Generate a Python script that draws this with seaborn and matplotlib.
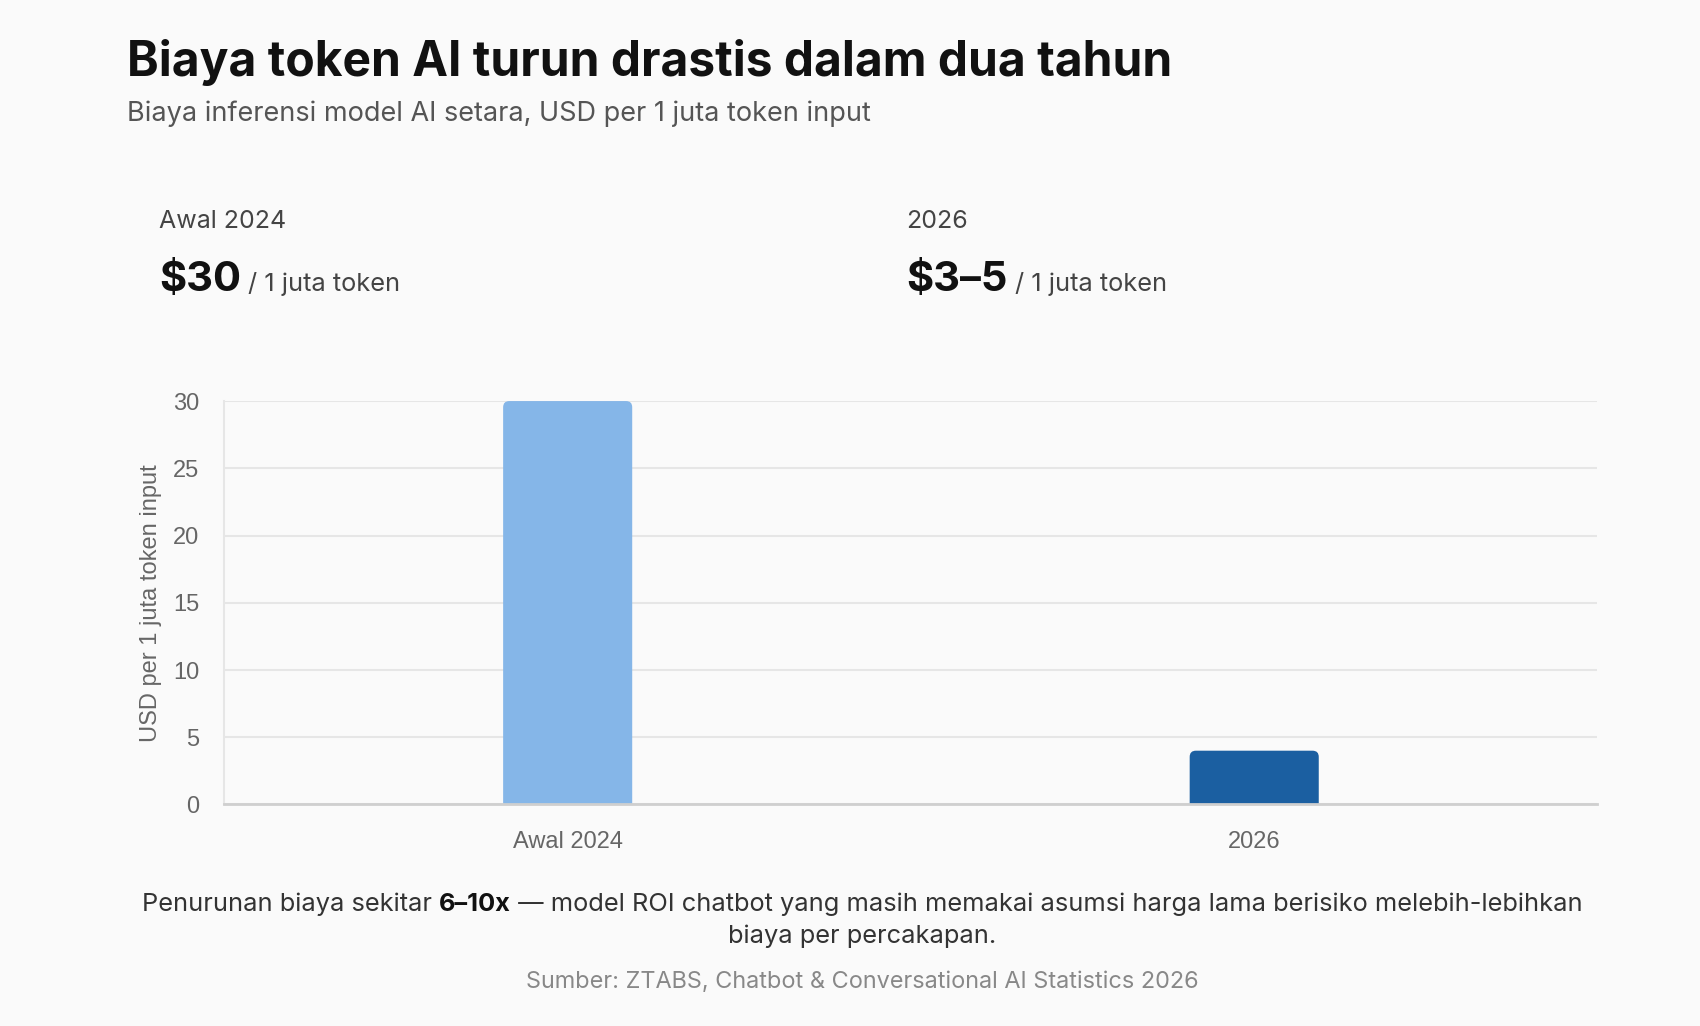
import matplotlib
matplotlib.use("Agg")
import matplotlib.pyplot as plt
from matplotlib.patches import FancyBboxPatch
import seaborn as sns
import pandas as pd

# data
categories = ["Awal 2024", "2026"]
cost_usd = [30, 4]
headline_values = ["$30", "$3–5"]
headline_unit = "/ 1 juta token"
bar_colors = ["#85B6E8", "#1B5FA1"]

title = "Biaya token AI turun drastis dalam dua tahun"
subtitle = "Biaya inferensi model AI setara, USD per 1 juta token input"
note_parts = ["Penurunan biaya sekitar ", "6–10x",
              " — model ROI chatbot yang masih memakai asumsi harga lama berisiko melebih-lebihkan"]
note_line2 = "biaya per percakapan."
source = "Sumber: ZTABS, Chatbot & Conversational AI Statistics 2026"

BG = "#FAFAFA"
HEAD_FONT = ["Inter", "DejaVu Sans"]
AX_FONT = ["Liberation Sans", "DejaVu Sans"]

sns.set_theme(style="white")
plt.rcParams["font.family"] = HEAD_FONT

df = pd.DataFrame({"periode": categories, "biaya": cost_usd})

fig = plt.figure(figsize=(17, 10.26), dpi=100, facecolor=BG)
ax = fig.add_axes([0.132, 0.2159, 0.8077, 0.3932], facecolor=BG)

sns.barplot(data=df, x="periode", y="biaya", hue="periode", palette=bar_colors,
            width=0.188, legend=False, ax=ax, saturation=1)

ax.set_ylim(0, 30)
ax.set_xlim(-0.5, 1.5)

# rounded tops: swap seaborn rectangles for rounded boxes
for p in list(ax.patches):
    x, w, h = p.get_x(), p.get_width(), p.get_height()
    fc = p.get_facecolor()
    p.remove()
    ax.add_patch(FancyBboxPatch((x, -1), w, h + 1,
                                boxstyle="round,pad=0,rounding_size=0.009",
                                mutation_aspect=51, facecolor=fc, edgecolor="none",
                                zorder=2))

ax.set_yticks(range(0, 31, 5))
ax.grid(axis="y", color="#E6E6E6", lw=1.5, zorder=0)
ax.grid(axis="x", visible=False)
ax.set_axisbelow(True)
for s in ["top", "right"]:
    ax.spines[s].set_visible(False)
ax.spines["left"].set_color("#E6E6E6")
ax.spines["left"].set_linewidth(1.5)
ax.spines["bottom"].set_color("#CFCFCF")
ax.spines["bottom"].set_linewidth(2)
ax.tick_params(axis="y", length=12, width=1.5, color="#E6E6E6", pad=6,
               labelsize=17, labelcolor="#666666")
ax.tick_params(axis="x", length=0, pad=19, labelsize=17, labelcolor="#666666")
for lab in ax.get_xticklabels() + ax.get_yticklabels():
    lab.set_family(AX_FONT)
ax.set_xlabel("")
ax.set_ylabel("USD per 1 juta token input", fontsize=17, color="#666666",
              family=AX_FONT, labelpad=8)

# header
fig.text(0.0746, 0.926, title, fontsize=34.5, fontweight="bold", color="#111111",
         va="baseline")
fig.text(0.0746, 0.8817, subtitle, fontsize=19.5, color="#555555", va="baseline")

fig.canvas.draw()
r = fig.canvas.get_renderer()


def chain(x0, y, parts, gap_px=0):
    """Place text pieces one after another on a shared baseline."""
    out = []
    x = x0
    for text, kw in parts:
        t = fig.text(x, y, text, va="baseline", ha="left", **kw)
        ext = t.get_window_extent(r)
        x = (ext.x1 + gap_px) / fig.bbox.width
        out.append(t)
    return out


for i, (cat, val) in enumerate(zip(categories, headline_values)):
    x0 = [0.0938, 0.5332][i]
    fig.text(x0, 0.778, cat, fontsize=18, color="#444444", va="baseline")
    chain(x0, 0.7168, [(val, dict(fontsize=30, fontweight="bold", color="#111111")),
                       (headline_unit, dict(fontsize=18.3, color="#444444"))],
          gap_px=7)

# footnote with bold middle part, centred
note_kw = [dict(fontsize=18.3, color="#333333"),
           dict(fontsize=18.3, color="#111111", fontweight="bold"),
           dict(fontsize=18.3, color="#333333")]
pieces = chain(0.0, 0.1124, list(zip(note_parts, note_kw)))
left = pieces[0].get_window_extent(r).x0
right = pieces[-1].get_window_extent(r).x1
offset = 0.507 - (right + left) / 2 / fig.bbox.width
for t in pieces:
    t.set_x(t.get_position()[0] + offset)

fig.text(0.507, 0.081, note_line2, fontsize=18.3, color="#333333", ha="center",
         va="baseline")
fig.text(0.507, 0.0373, source, fontsize=16.9, color="#888888", ha="center",
         va="baseline")

fig.savefig("out.png", dpi=100, facecolor=BG)
